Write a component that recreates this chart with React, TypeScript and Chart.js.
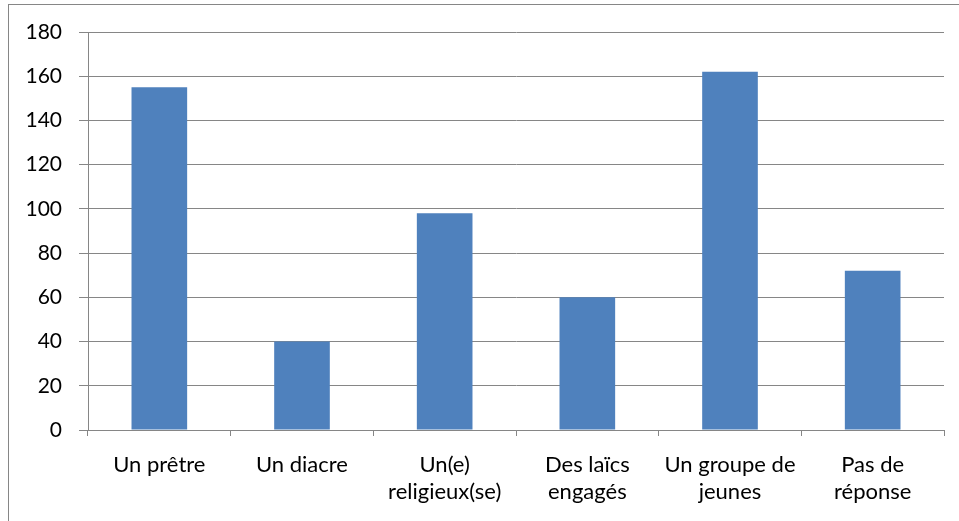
import React, { useEffect, useRef } from "react";
import { Chart, registerables } from "chart.js";

Chart.register(...registerables);

const categories: (string | string[])[] = [
  "Un prêtre",
  "Un diacre",
  ["Un(e)", "religieux(se)"],
  ["Des laïcs", "engagés"],
  ["Un groupe de", "jeunes"],
  ["Pas de", "réponse"],
];
const values = [155, 40, 98, 60, 162, 72];
const yMin = 0;
const yMax = 180;
const yStep = 20;

const AXIS = "#868686";
const FONT = "Lato, 'Open Sans', sans-serif";

export default function App() {
  const ref = useRef<HTMLCanvasElement | null>(null);
  useEffect(() => {
    if (!ref.current) return;
    const chart = new Chart(ref.current, {
      type: "bar",
      data: {
        labels: categories,
        datasets: [
          {
            data: values,
            backgroundColor: "#4F81BD",
            borderWidth: 0,
            categoryPercentage: 1,
            barPercentage: 0.39,
          },
        ],
      },
      options: {
        animation: false,
        responsive: false,
        maintainAspectRatio: false,
        layout: { padding: { top: 32, right: 15, left: 0, bottom: 0 } },
        plugins: { legend: { display: false }, tooltip: { enabled: false } },
        scales: {
          x: {
            afterFit: (s: any) => {
              s.height = 91;
            },
            border: { color: AXIS, width: 1 },
            grid: {
              offset: true,
              drawOnChartArea: false,
              color: AXIS,
              tickLength: 6,
            },
            ticks: {
              color: "#000",
              padding: 15,
              maxRotation: 0,
              autoSkip: false,
              font: { family: FONT, size: 22, lineHeight: 1.25 },
            },
          },
          y: {
            min: yMin,
            max: yMax,
            afterFit: (s: any) => {
              s.width = 88;
            },
            border: { color: AXIS, width: 1 },
            grid: { color: AXIS, tickLength: 9 },
            ticks: {
              stepSize: yStep,
              color: "#000",
              padding: 17,
              font: { family: FONT, size: 21 },
            },
          },
        },
      },
    });
    return () => chart.destroy();
  }, []);
  return (
    <div
      style={{
        position: "fixed",
        left: 0,
        top: 0,
        width: 959,
        height: 521,
        background: "#fff",
      }}
    >
      <div
        style={{
          position: "absolute",
          left: 8,
          top: 4,
          right: -2,
          bottom: -2,
          border: `1px solid ${AXIS}`,
        }}
      />
      <canvas
        ref={ref}
        width={959}
        height={521}
        style={{ position: "absolute", left: 0, top: 0, display: "block" }}
      />
    </div>
  );
}
